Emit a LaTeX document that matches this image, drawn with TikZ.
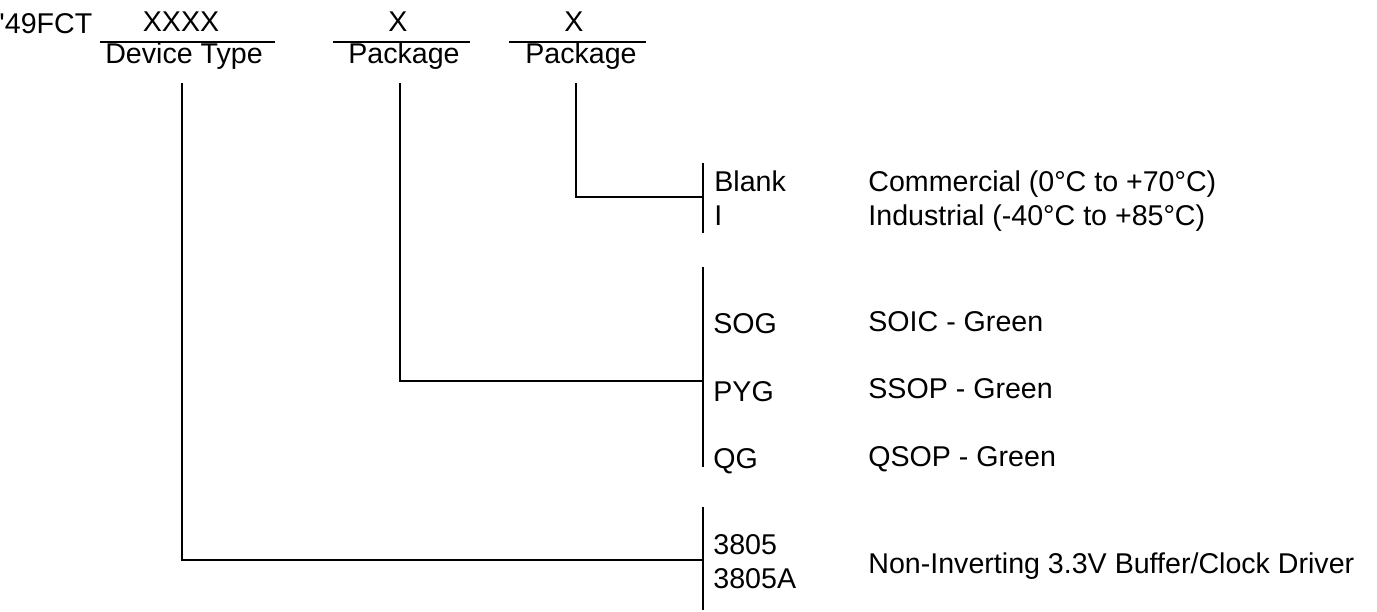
\documentclass[tikz,border=0pt]{standalone}
\usepackage{fontspec}
\setmainfont{Liberation Sans}
\tikzstyle{txt} = [inner sep=0pt, font=\fontsize{14.3}{16}\selectfont]
\tikzstyle{field} = [txt, anchor=base]
\tikzstyle{code} = [txt, anchor=base west]
\tikzstyle{desc} = [txt, anchor=base west]
\tikzstyle{wire} = [line width=1pt]

\begin{document}
\begin{tikzpicture}[x=0.5pt, y=-0.5pt]
  \useasboundingbox (0,0) rectangle (1377,611);

  % Part number fields
  \node (prefix) [txt, anchor=base west] at (-1,33) {\textquotesingle 49FCT};
  \node (devx) [field] at (181,31) {XXXX};
  \node (pkgx) [field] at (398,31) {X};
  \node (tempx) [field] at (574,31) {X};
  \node (devlbl) [field] at (184,63) {Device Type};
  \node (pkglbl) [field] at (404,63) {Package};
  \node (templbl) [field] at (581,63) {Package};

  % Underlines of the fields
  \coordinate (devl) at (100,42);
  \coordinate (devr) at (275,42);
  \coordinate (pkgl) at (333,42);
  \coordinate (pkgr) at (470,42);
  \coordinate (templ) at (509,42);
  \coordinate (tempr) at (646,42);
  \draw [wire] (devl) -- (devr);
  \draw [wire] (pkgl) -- (pkgr);
  \draw [wire] (templ) -- (tempr);

  % Stems and brackets
  \coordinate (devstem) at (182,83);
  \coordinate (pkgstem) at (400,83);
  \coordinate (tempstem) at (576,83);
  \coordinate (tempbarT) at (703,163);
  \coordinate (tempbarB) at (703,233);
  \coordinate (tempjoin) at (703,197);
  \coordinate (pkgbarT) at (703,267);
  \coordinate (pkgbarB) at (703,467);
  \coordinate (pkgjoin) at (703,381);
  \coordinate (devbarT) at (703,507);
  \coordinate (devbarB) at (703,610);
  \coordinate (devjoin) at (703,560);

  \draw [wire] (tempbarT) -- (tempbarB);
  \draw [wire] (pkgbarT) -- (pkgbarB);
  \draw [wire] (devbarT) -- (devbarB);

  \draw [wire] (tempstem) |- (tempjoin);
  \draw [wire] (pkgstem) |- (pkgjoin);
  \draw [wire] (devstem) |- (devjoin);

  % Temperature range
  \node (blank) [code] at (714,191) {Blank};
  \node (ind) [code] at (714,225) {I};
  \node (comm) [desc] at (868,191) {Commercial (0°C to +70°C)};
  \node (indt) [desc] at (868,225) {Industrial (-40°C to +85°C)};

  % Packages
  \node (sog) [code] at (713,333) {SOG};
  \node (pyg) [code] at (713,401) {PYG};
  \node (qg) [code] at (713,468) {QG};
  \node (soic) [desc] at (868,331) {SOIC - Green};
  \node (ssop) [desc] at (868,398) {SSOP - Green};
  \node (qsop) [desc] at (868,466) {QSOP - Green};

  % Device types
  \node (d3805) [code] at (713,554) {3805};
  \node (d3805a) [code] at (713,588) {3805A};
  \node (buf) [desc] at (868,573) {Non-Inverting 3.3V Buffer/Clock Driver};
\end{tikzpicture}
\end{document}
